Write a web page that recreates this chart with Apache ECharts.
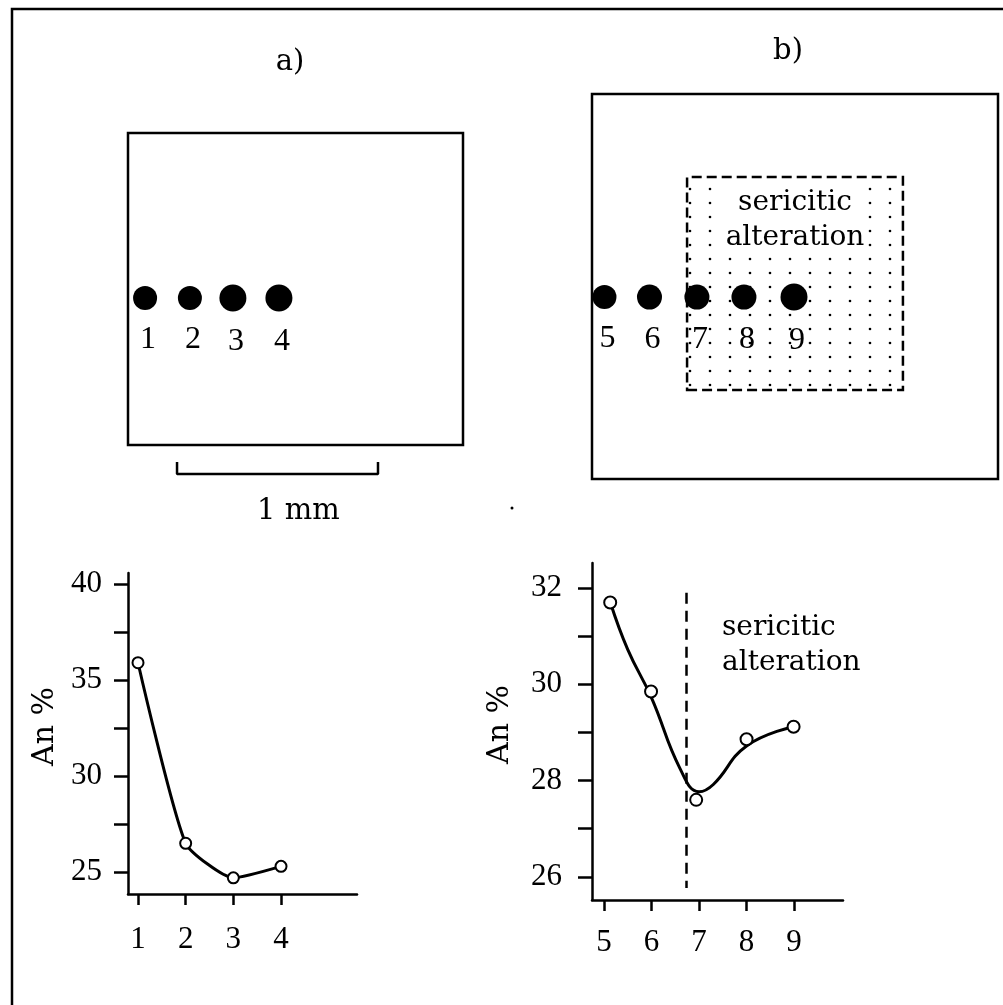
<!DOCTYPE html>
<html><head><meta charset="utf-8">
<script src="https://cdn.jsdelivr.net/npm/echarts@6/dist/echarts.min.js"></script>
<style>html,body{margin:0;padding:0;background:#fff}#c{width:1003px;height:1005px}</style>
</head><body><div id="c"></div>
<script>
// ---------------- data ----------------
// analysis spots in the schematic grains (µm from lower-left corner of each grain)
const samplesA = ['1', '2', '3', '4'];
const samplesB = ['5', '6', '7', '8', '9'];
const spotXA = [85, 308, 522, 751];
const spotYA = [731, 731, 731, 731];
const spotXB = [62, 286, 522, 756, 1005];
const spotYB = [905, 905, 905, 905, 905];
const grainA = [1667, 1552];          // width, height (µm)
const grainB = [2020, 1915];
const alterationZone = [[473, 443], [1547, 1502]];
const scaleBar = [[244, -85], [244, -144], [1244, -144], [1244, -85]];   // 1 mm bar

// An % profiles
const posA = [1, 2, 3, 4];
const anA = [35.9, 26.5, 24.7, 25.3];
const posB = [5.13, 5.99, 6.94, 8.0, 8.99];
const anB = [31.7, 29.85, 27.6, 28.86, 29.12];
// hand-drawn trend curve of profile b
const curveBx = [5.13, 5.5, 6.0, 6.6, 7.0, 7.3, 8.0, 8.99];
const curveBy = [31.71, 30.72, 29.72, 28.25, 27.77, 27.92, 28.72, 29.12];
const boundaryX = 6.73;
const boundaryY = [31.9, 25.77];

// ticks and labels
const yTicksA = [25, 27.5, 30, 32.5, 35, 37.5, 40];
const yLabelsA = [25, 30, 35, 40];
const xTicksA = [1, 2, 3, 4];
const yTicksB = [26, 27, 28, 29, 30, 31, 32];
const yLabelsB = [26, 28, 30, 32];
const xTicksB = [5, 6, 7, 8, 9];

// ---------------- styling ----------------
const NUM = 'Liberation Serif';
const TXT = 'DejaVu Serif';
const BLACK = '#000';

const pat = document.createElement('canvas');
pat.width = 20; pat.height = 14;
(function () {
  const g = pat.getContext('2d');
  g.fillStyle = '#fff'; g.fillRect(0, 0, 20, 14);
  g.fillStyle = '#000'; g.beginPath(); g.arc(10, 7, 1.3, 0, Math.PI * 2); g.fill();
})();

function hiddenAxis(grid, max) {
  return { gridIndex: grid, type: 'value', min: 0, max: max, show: false };
}
function profileX(grid, min, max, ticks, margin) {
  return {
    gridIndex: grid, type: 'value', min: min, max: max,
    axisLine: { show: true, onZero: false, lineStyle: { color: BLACK, width: 2.5 } },
    axisTick: { show: true, customValues: ticks, length: 11, lineStyle: { color: BLACK, width: 2.5 } },
    axisLabel: { customValues: ticks, margin: margin, fontFamily: NUM, fontSize: 31, color: BLACK },
    splitLine: { show: false }
  };
}
function profileY(grid, min, max, ticks, labels, margin, gap) {
  return {
    gridIndex: grid, type: 'value', min: min, max: max,
    name: 'An %', nameLocation: 'middle', nameGap: gap,
    nameTextStyle: { fontFamily: TXT, fontSize: 30, color: BLACK, padding: [0, 0, 0, 14] },
    axisLine: { show: true, onZero: false, lineStyle: { color: BLACK, width: 2.5 } },
    axisTick: { show: true, customValues: ticks, length: 14, lineStyle: { color: BLACK, width: 2.5 } },
    axisLabel: { customValues: labels, margin: margin, fontFamily: NUM, fontSize: 31, color: BLACK },
    splitLine: { show: false }
  };
}
function spotData(xs, ys, names, sizes) {
  return xs.map((x, i) => ({ value: [x, ys[i]], name: names[i], symbolSize: sizes[i] }));
}
const spotLabel = { show: true, position: 'bottom', distance: 14, offset: [3, 0],
  formatter: p => p.name, fontFamily: NUM, fontSize: 32, color: BLACK };

const option = {
  animation: false,
  backgroundColor: '#fff',
  grid: [
    { left: 128, top: 133, width: 335, height: 312, show: true, borderColor: BLACK, borderWidth: 2.5, backgroundColor: 'transparent' },
    { left: 592, top: 94, width: 406, height: 385, show: true, borderColor: BLACK, borderWidth: 2.5, backgroundColor: 'transparent' },
    { left: 128, top: 573, width: 229, height: 321 },
    { left: 592, top: 563, width: 251, height: 337 }
  ],
  xAxis: [
    hiddenAxis(0, grainA[0]),
    hiddenAxis(1, grainB[0]),
    profileX(2, 0.79, 5.594, xTicksA, 30),
    profileX(3, 4.747, 10.03, xTicksB, 27)
  ],
  yAxis: [
    hiddenAxis(0, grainA[1]),
    hiddenAxis(1, grainB[1]),
    profileY(2, 23.86, 40.57, yTicksA, yLabelsA, 26, 68),
    profileY(3, 25.52, 32.52, yTicksB, yLabelsB, 30, 77)
  ],
  series: [
    {
      type: 'scatter', xAxisIndex: 0, yAxisIndex: 0, symbol: 'circle',
      data: spotData(spotXA, spotYA, samplesA, [24, 24, 27, 27]),
      itemStyle: { color: BLACK, opacity: 1 }, label: spotLabel, z: 5
    },
    {
      type: 'line', xAxisIndex: 0, yAxisIndex: 0, data: scaleBar, clip: false,
      symbol: 'none', lineStyle: { color: BLACK, width: 2.5 }, silent: true
    },
    {
      type: 'scatter', xAxisIndex: 1, yAxisIndex: 1, symbol: 'circle',
      data: spotData(spotXB, spotYB, samplesB, [24, 25, 25, 25, 27]),
      itemStyle: { color: BLACK, opacity: 1 }, label: spotLabel, z: 5,
      markArea: {
        silent: true,
        itemStyle: { color: { image: pat, repeat: 'repeat' }, opacity: 1,
          borderColor: BLACK, borderWidth: 2.5, borderType: [10, 5] },
        label: { show: true, position: 'insideTop', distance: 9,
          formatter: 'sericitic\nalteration', fontFamily: TXT, fontSize: 28, lineHeight: 35,
          color: BLACK, backgroundColor: '#fff', padding: [0, 2] },
        data: [[{ coord: alterationZone[0] }, { coord: alterationZone[1] }]]
      }
    },
    {
      type: 'line', xAxisIndex: 2, yAxisIndex: 2,
      data: posA.map((x, i) => [x, anA[i]]),
      smooth: 0.18, symbol: 'emptyCircle', symbolSize: 11,
      lineStyle: { color: BLACK, width: 3 },
      itemStyle: { color: BLACK, borderColor: BLACK, borderWidth: 2, opacity: 1 }
    },
    {
      type: 'line', xAxisIndex: 3, yAxisIndex: 3,
      data: curveBx.map((x, i) => [x, curveBy[i]]),
      smooth: 0.45, symbol: 'none',
      lineStyle: { color: BLACK, width: 3 },
      markLine: {
        silent: true, symbol: ['none', 'none'], label: { show: false },
        lineStyle: { color: BLACK, width: 2.5, type: [11, 7] },
        data: [[{ coord: [boundaryX, boundaryY[0]] }, { coord: [boundaryX, boundaryY[1]] }]]
      }
    },
    {
      type: 'scatter', xAxisIndex: 3, yAxisIndex: 3,
      data: posB.map((x, i) => [x, anB[i]]),
      symbol: 'emptyCircle', symbolSize: 12,
      itemStyle: { color: BLACK, borderColor: BLACK, borderWidth: 2.2, opacity: 1 }, z: 5
    }
  ],
  graphic: [
    { type: 'polyline', shape: { points: [[12, 1010], [12, 9], [1010, 9]] },
      style: { stroke: BLACK, lineWidth: 2.5, fill: null } },
    { type: 'text', x: 290, y: 62, style: { text: 'a)', font: '29px "DejaVu Serif"', fill: BLACK, textAlign: 'center', textVerticalAlign: 'middle' } },
    { type: 'text', x: 788, y: 51, style: { text: 'b)', font: '29px "DejaVu Serif"', fill: BLACK, textAlign: 'center', textVerticalAlign: 'middle' } },
    { type: 'text', x: 257, y: 511, style: { text: '1 mm', font: '29px "DejaVu Serif"', fill: BLACK, textAlign: 'left', textVerticalAlign: 'middle' } },
    { type: 'circle', shape: { cx: 512, cy: 508, r: 1.5 }, style: { fill: BLACK } },
    { type: 'text', x: 722, y: 610, style: { text: 'sericitic\nalteration', font: '28px "DejaVu Serif"', lineHeight: 35, fill: BLACK, textAlign: 'left', textVerticalAlign: 'top' } }
  ]
};

const chart = echarts.init(document.getElementById('c'), null, { renderer: 'canvas' });
chart.setOption(option);
</script>
</body></html>
